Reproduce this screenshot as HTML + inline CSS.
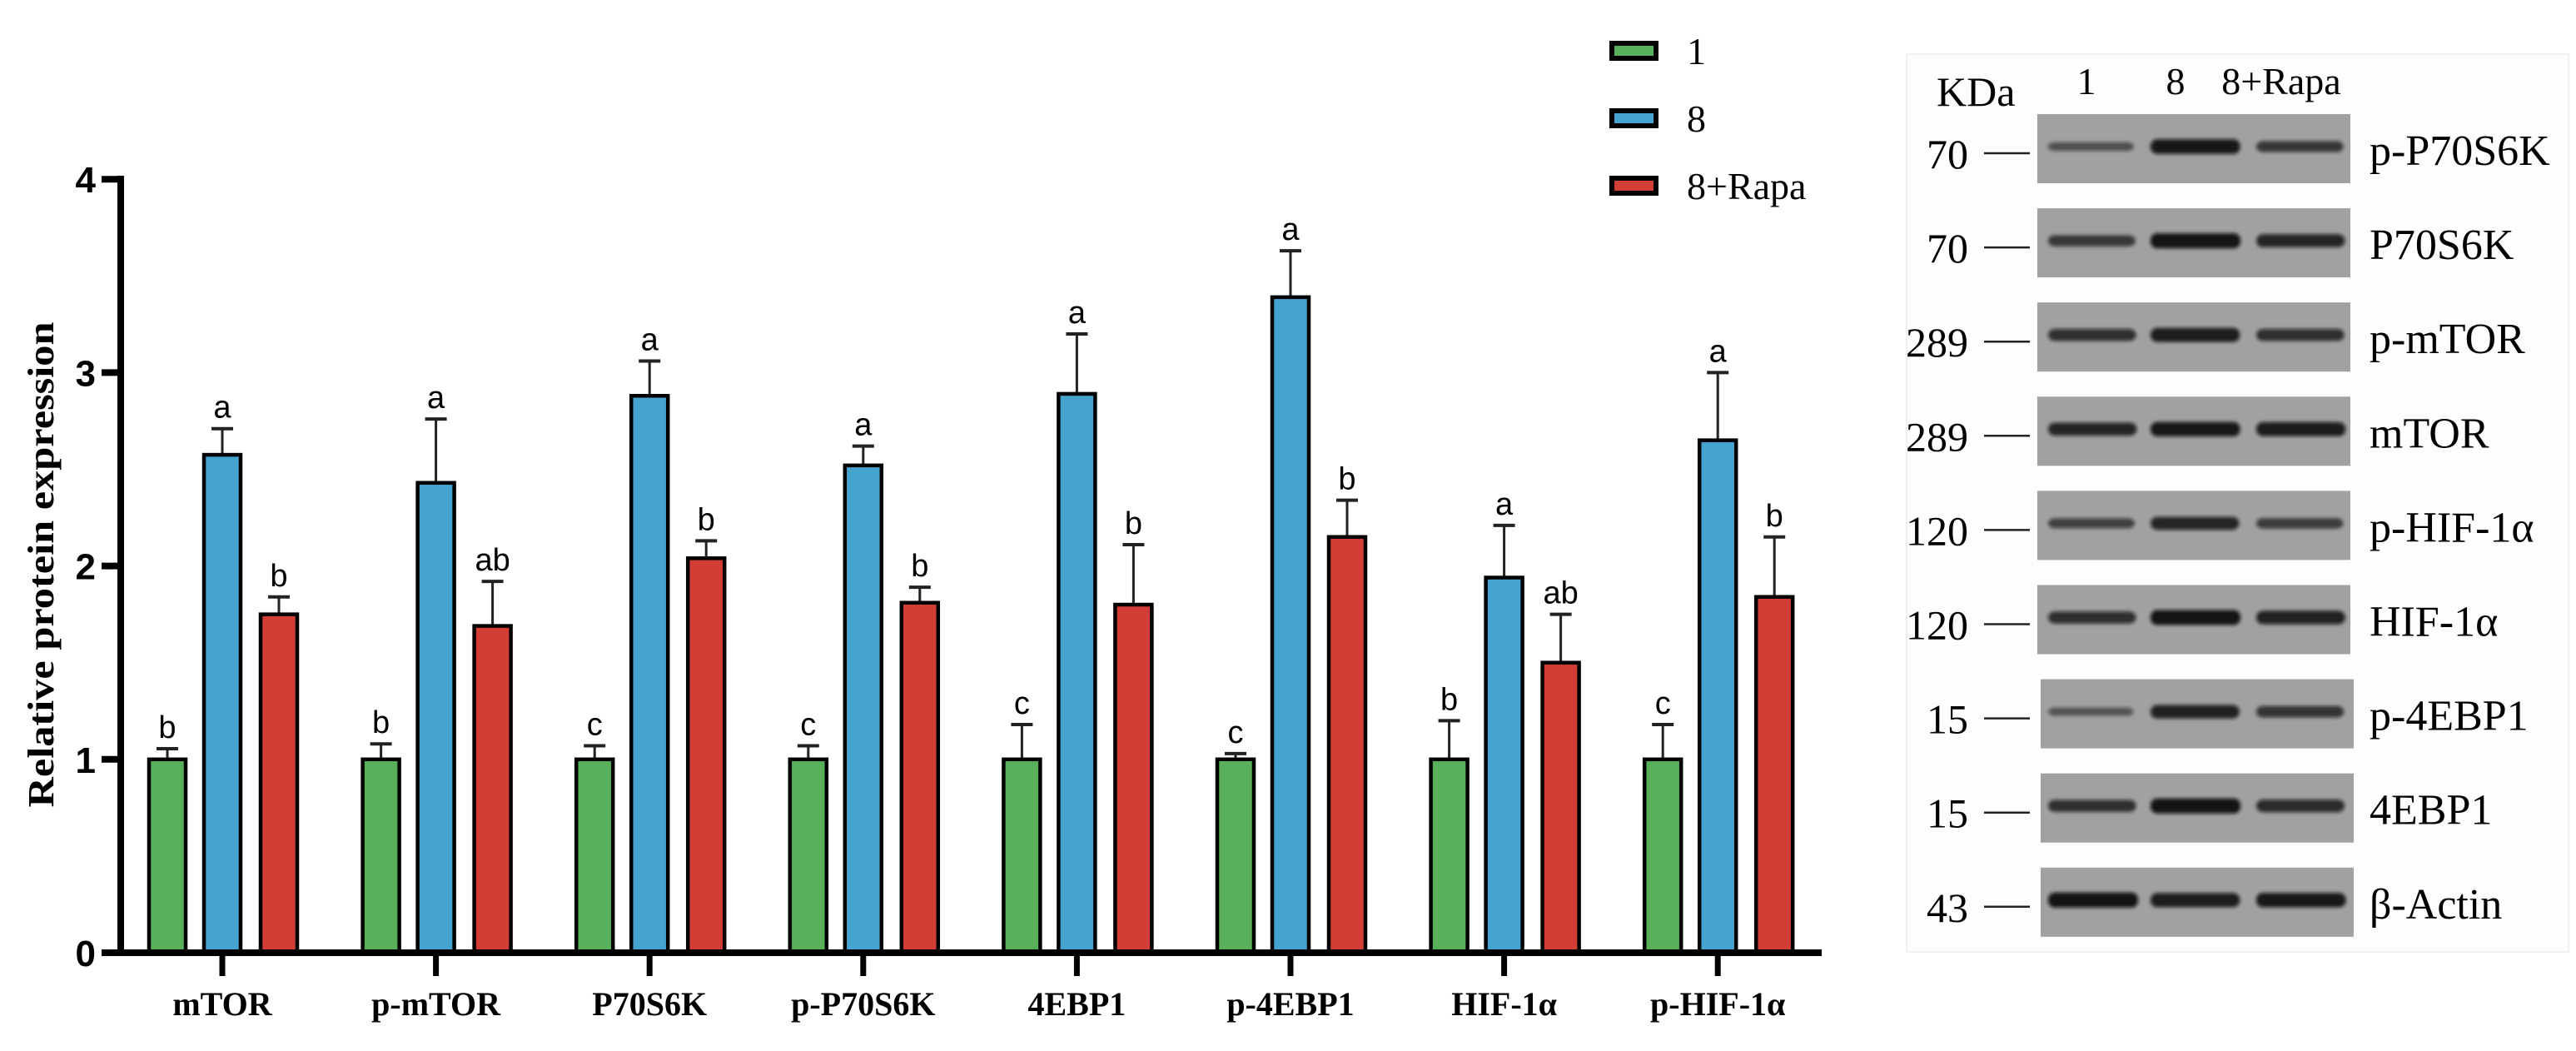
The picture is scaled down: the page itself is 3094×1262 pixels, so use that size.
<!DOCTYPE html>
<html><head><meta charset="utf-8"><style>
html,body{margin:0;padding:0;background:#fff;}
svg{display:block;}
.tk{font-family:"Liberation Sans",sans-serif;font-weight:bold;font-size:44px;}
.cat{font-family:"Liberation Serif",serif;font-weight:bold;font-size:40px;}
.lt{font-family:"Liberation Sans",sans-serif;font-size:38px;}
.ser{font-family:"Liberation Serif",serif;}
</style></head><body>
<svg id="fig" width="3094" height="1262" viewBox="0 0 3094 1262" xmlns="http://www.w3.org/2000/svg">
<defs><filter id="blur" x="-20%" y="-100%" width="140%" height="300%"><feGaussianBlur stdDeviation="2.2"/></filter></defs>
<g id="chart"></g>
<g id="legend"></g>
<g id="blot"></g>
</svg>
<script>
const categories = ["mTOR","p-mTOR","P70S6K","p-P70S6K","4EBP1","p-4EBP1","HIF-1α","p-HIF-1α"];
const seriesNames = ["1","8","8+Rapa"];
const vals1 = [1,1,1,1,1,1,1,1];
const err1 = [0.055,0.08,0.07,0.07,0.18,0.03,0.2,0.18];
const vals8 = [2.575,2.43,2.88,2.52,2.89,3.39,1.94,2.65];
const err8 = [0.135,0.33,0.18,0.1,0.31,0.24,0.27,0.35];
const valsR = [1.75,1.69,2.04,1.81,1.80,2.15,1.50,1.84];
const errR = [0.09,0.23,0.09,0.08,0.31,0.19,0.25,0.31];
const let1 = ["b","b","c","c","c","c","b","c"];
const let8 = ["a","a","a","a","a","a","a","a"];
const letR = ["b","ab","b","b","b","b","ab","b"];
const yTicks = [0,1,2,3,4];
const blotProteins = ["p-P70S6K","P70S6K","p-mTOR","mTOR","p-HIF-1α","HIF-1α","p-4EBP1","4EBP1","β-Actin"];
const blotKDa = ["70","70","289","289","120","120","15","15","43"];
const laneNames = ["1","8","8+Rapa"];
const bandI1 = [0.35,0.6,0.7,0.8,0.5,0.7,0.3,0.7,1.0];
const bandI8 = [0.95,1.0,0.9,0.95,0.8,1.0,0.85,1.0,0.9];
const bandIR = [0.6,0.8,0.7,0.9,0.55,0.85,0.65,0.75,0.95];

const NS="http://www.w3.org/2000/svg";
function el(tag,attrs,parent,text){const e=document.createElementNS(NS,tag);for(const k in attrs)e.setAttribute(k,attrs[k]);if(text!==undefined)e.textContent=text;parent.appendChild(e);return e;}
const yS=v=>1144-232.2*v;
const xS=i=>267+256.6*i;
const colors=["#58b05a","#45a3d0","#d23d36"];
const offs=[-66,0,68];
const chart=document.getElementById('chart');

// y axis
let ya=el('line',{x1:145,y1:211,x2:145,y2:1148,stroke:'#000','stroke-width':8},chart);


yTicks.forEach(t=>{
  let l=el('line',{x1:122,y1:yS(t),x2:149,y2:yS(t),stroke:'#000','stroke-width':8},chart);
  
  
  let tx=el('text',{x:115,y:yS(t)+16,'text-anchor':'end',class:'tk'},chart,String(t));
  
  
});
let yt=el('text',{x:0,y:0,class:'ser','font-weight':'bold','font-size':44,'text-anchor':'middle',transform:'translate(64,678) rotate(-90)',textLength:583,lengthAdjust:'spacingAndGlyphs'},chart,"Relative protein  expression");



const vals=[vals1,vals8,valsR], errs=[err1,err8,errR], lets=[let1,let8,letR];
categories.forEach((c,i)=>{
  const cx=xS(i);
  for(let s=0;s<3;s++){
    const v=vals[s][i], e=errs[s][i], bx=cx+offs[s];
    const top=yS(v), et=yS(v+e);
    let eb=el('line',{x1:bx,y1:top,x2:bx,y2:et,stroke:'#222','stroke-width':3},chart);
    
    
    let cap=el('line',{x1:bx-13,y1:et,x2:bx+13,y2:et,stroke:'#222','stroke-width':4},chart);
    
    
    let r=el('rect',{x:bx-22,y:top,width:44,height:yS(0)-top,fill:colors[s],stroke:'#000','stroke-width':4.5},chart);
    
    
    let lt=el('text',{x:bx,y:et-13,'text-anchor':'middle',class:'lt'},chart,lets[s][i]);
    
    
  }
  let tk=el('line',{x1:cx,y1:1144,x2:cx,y2:1172,stroke:'#000','stroke-width':7},chart);
  
  
  let cl=el('text',{x:cx,y:1219,'text-anchor':'middle',class:'cat'},chart,c);
  
  
});
let xa=el('line',{x1:122,y1:1144,x2:2188,y2:1144,stroke:'#000','stroke-width':8},chart);



// legend
const leg=document.getElementById('legend');
seriesNames.forEach((n,s)=>{
  const y=49+81*s;
  let sw=el('rect',{x:1936,y:y+3,width:53,height:18,fill:colors[s],stroke:'#000','stroke-width':6},leg);
  
  
  let t=el('text',{x:2026,y:y+28,class:'ser','font-size':46},leg,n);
  
  
});

// blot
const blot=document.getElementById('blot');
let pb=el('rect',{x:2290,y:65,width:795,height:1078,fill:'#fdfdfd',stroke:'#f0f0f0','stroke-width':2},blot);


let kd=el('text',{x:2326,y:127,class:'ser','font-size':50},blot,"KDa");


const laneX=[2510,2633,2760];
const laneHX=[2506,2613,2740];
laneNames.forEach((n,j)=>{
  let t=el('text',{x:laneHX[j],y:113,'text-anchor':'middle',class:'ser','font-size':46},blot,n);
  
  
});
const bandI=[bandI1,bandI8,bandIR];
blotProteins.forEach((p,i)=>{
  const top=137+113.1*i;
  let b=el('rect',{x:2447+ (i>5?4:0),y:top,width:376,height:83,fill:'#a1a1a1'},blot);
  
  
  for(let j=0;j<3;j++){
    const I=bandI[j][i];
    let e=el('rect',{x:laneX[j]-50,y:top+36-6*I,width:100+8*I,height:6+12*I,rx:8,fill:'#0c0c0c',opacity:0.35+0.6*I,filter:'url(#blur)'},blot);
    
    
  }
  let tl=el('line',{x1:2383,y1:top+47,x2:2438,y2:top+47,stroke:'#222','stroke-width':2.5},blot);
  
  
  let mw=el('text',{x:2364,y:top+65,'text-anchor':'end',class:'ser','font-size':50},blot,blotKDa[i]);
  
  
  let pl=el('text',{x:2846,y:top+61,class:'ser','font-size':52},blot,p);
  
  
});
</script>
</body></html>
